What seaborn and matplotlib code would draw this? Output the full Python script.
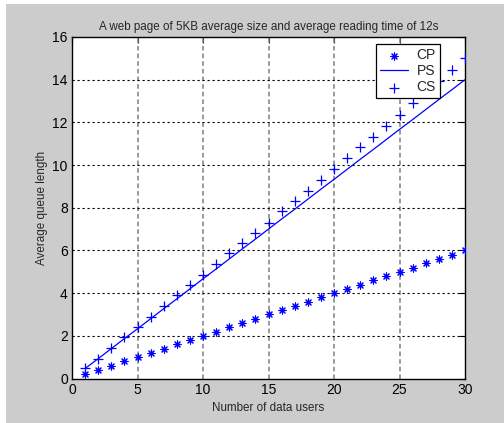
import matplotlib
matplotlib.use("Agg")
import matplotlib.pyplot as plt
from matplotlib.patches import Rectangle
import seaborn as sns
import pandas as pd

# Number of data users on the x axis
users = list(range(1, 31))

# Average queue length per scheme
cp = [0.2, 0.4, 0.6, 0.8, 1.0, 1.2, 1.4, 1.6, 1.8, 2.0,
      2.2, 2.4, 2.6, 2.8, 3.0, 3.2, 3.4, 3.6, 3.8, 4.0,
      4.2, 4.4, 4.6, 4.8, 5.0, 5.2, 5.4, 5.6, 5.8, 6.0]
ps = [0.47, 0.93, 1.40, 1.87, 2.33, 2.80, 3.27, 3.73, 4.20, 4.67,
      5.13, 5.60, 6.07, 6.53, 7.00, 7.47, 7.93, 8.40, 8.87, 9.33,
      9.80, 10.27, 10.73, 11.20, 11.67, 12.13, 12.60, 13.07, 13.53, 14.00]
cs = [0.48, 0.91, 1.44, 1.96, 2.43, 2.90, 3.40, 3.91, 4.38, 4.85,
      5.37, 5.87, 6.34, 6.83, 7.30, 7.85, 8.33, 8.80, 9.32, 9.82,
      10.32, 10.83, 11.33, 11.83, 12.35, 12.90, 13.42, 13.95, 14.46, 15.00]

x_ticks = [0, 5, 10, 15, 20, 25, 30]
y_ticks = [0, 2, 4, 6, 8, 10, 12, 14, 16]

df = pd.DataFrame({"users": users, "CP": cp, "PS": ps, "CS": cs})

sns.set_style("white")
plt.rcParams["font.family"] = ["Liberation Sans", "DejaVu Sans"]

W, H = 504, 423
fig = plt.figure(figsize=(W / 100, H / 100), dpi=100, facecolor="white")
fig.patches.append(Rectangle((6 / W, 0), 1 - 6 / W, 1 - 4 / H,
                             transform=fig.transFigure, facecolor="#cccccc",
                             edgecolor="none", zorder=-10))

ax = fig.add_axes([72 / W, 1 - 378.5 / H, (465 - 72) / W, (378.5 - 37) / H])
ax.set_facecolor("white")

blue = (0, 0, 1)
sns.scatterplot(data=df, x="users", y="CP", ax=ax, marker=(8, 2, 0), s=26,
                color=blue, linewidth=0.8, edgecolor=blue, label="CP", zorder=3)
sns.lineplot(data=df, x="users", y="PS", ax=ax, color=blue, linewidth=0.9,
             label="PS", zorder=3)
sns.scatterplot(data=df, x="users", y="CS", ax=ax, marker="+", s=60,
                color=blue, linewidth=0.9, label="CS", zorder=3)

ax.set_xlim(0, 30)
ax.set_ylim(0, 16)
ax.set_xticks(x_ticks)
ax.set_yticks(y_ticks)
ax.tick_params(direction="in", length=4, width=0.8, labelsize=10,
               top=True, right=True, colors="black", pad=3)

# Grid: vertical gray dashes, horizontal black dots
for xv in x_ticks[1:-1]:
    ax.axvline(xv, color="#7f7f7f", linewidth=1.1, linestyle=(0, (3, 2)), zorder=1)
for yv in y_ticks[1:-1]:
    ax.axhline(yv, color="black", linewidth=0.8, linestyle=(0, (2, 2.5)), zorder=1)

for sp in ax.spines.values():
    sp.set_color("black")
    sp.set_linewidth(1.0)
    sp.set_visible(True)

ax.set_title("A web page of 5KB average size and average reading time of 12s",
             fontsize=8.4, pad=5)
ax.set_xlabel("Number of data users", fontsize=8.4, labelpad=4)
ax.set_ylabel("Average queue length", fontsize=8.4, labelpad=3)

leg = ax.legend(loc="upper right", bbox_to_anchor=((440 - 72) / 393, (378.5 - 44) / 341.5),
                frameon=True, fancybox=False, framealpha=1, edgecolor="black",
                fontsize=10, handlelength=2.0, borderpad=0.3, labelspacing=0.15,
                handletextpad=0.6, borderaxespad=0)
leg.get_frame().set_linewidth(0.9)
leg.set_zorder(5)

fig.savefig("out.png", dpi=100, facecolor=fig.get_facecolor())
